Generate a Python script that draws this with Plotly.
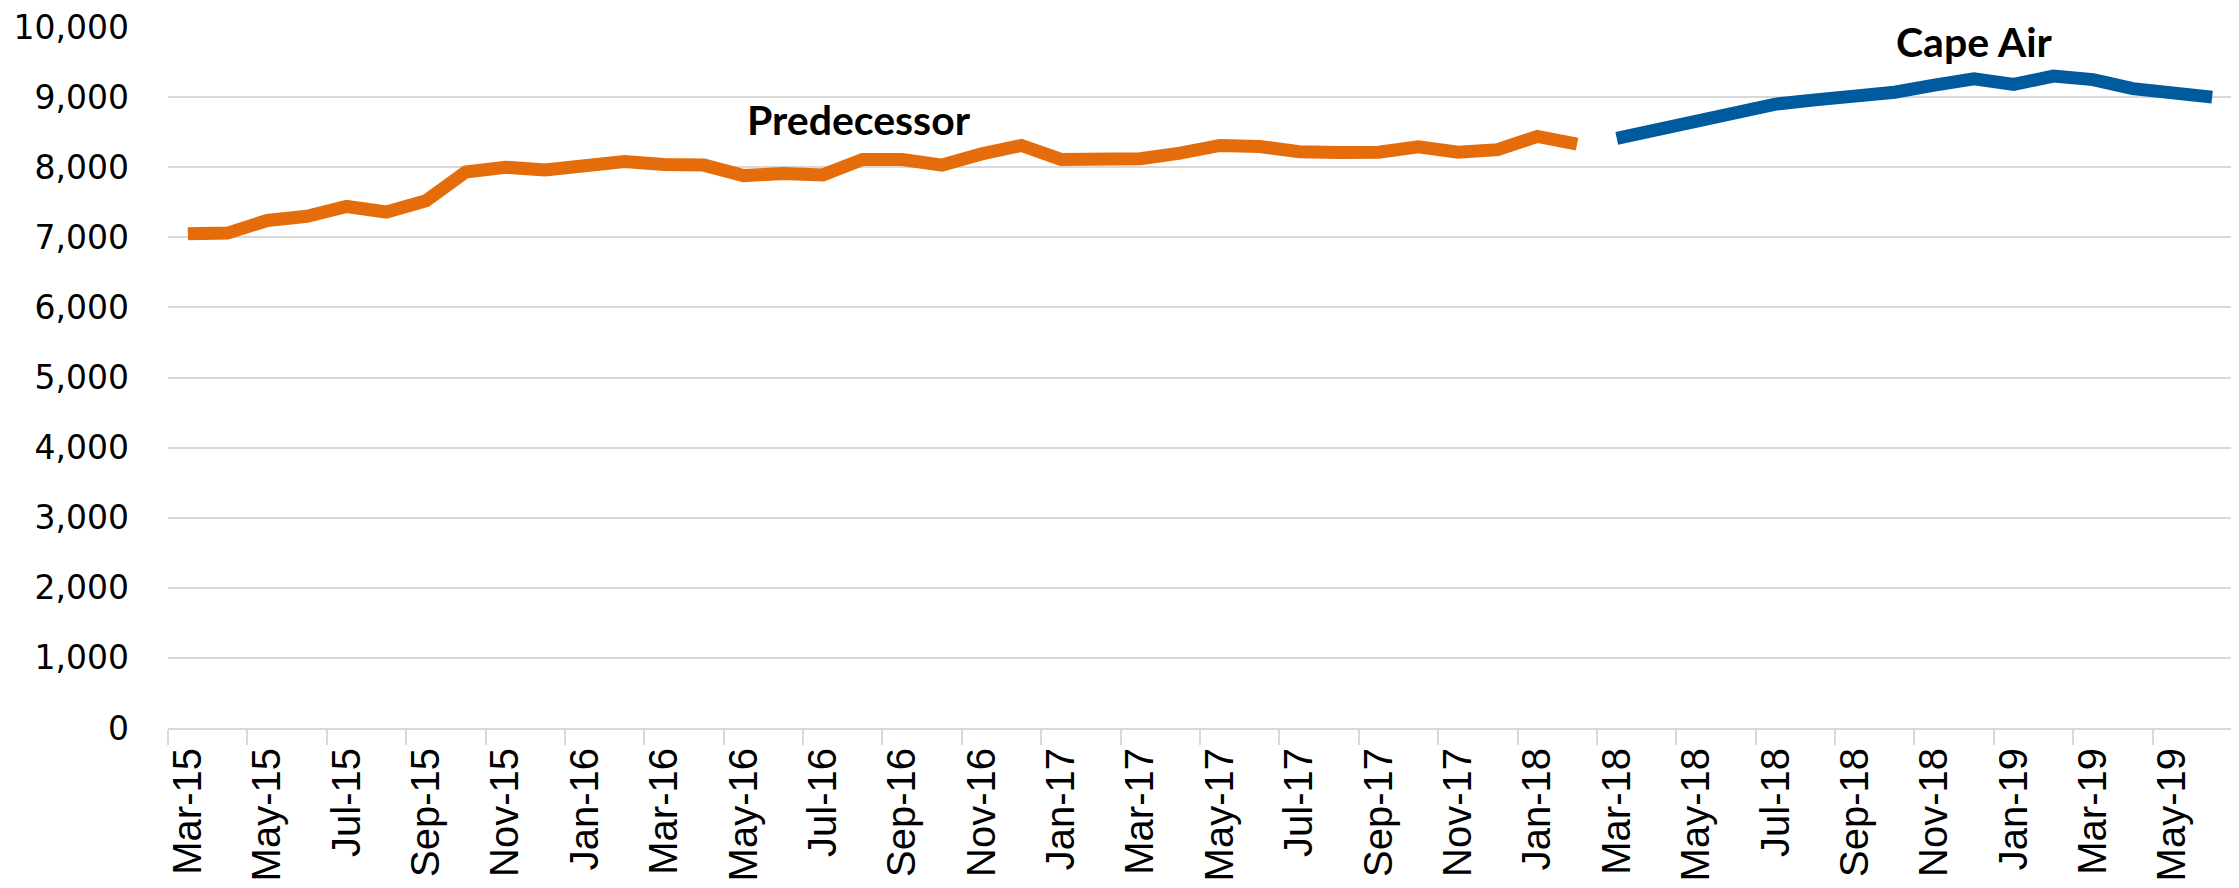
import plotly.graph_objects as go

months = ["Mar-15","Apr-15","May-15","Jun-15","Jul-15","Aug-15","Sep-15","Oct-15","Nov-15","Dec-15",
          "Jan-16","Feb-16","Mar-16","Apr-16","May-16","Jun-16","Jul-16","Aug-16","Sep-16","Oct-16","Nov-16","Dec-16",
          "Jan-17","Feb-17","Mar-17","Apr-17","May-17","Jun-17","Jul-17","Aug-17","Sep-17","Oct-17","Nov-17","Dec-17",
          "Jan-18","Feb-18","Mar-18","Apr-18","May-18","Jun-18","Jul-18","Aug-18","Sep-18","Oct-18","Nov-18","Dec-18",
          "Jan-19","Feb-19","Mar-19","Apr-19","May-19","Jun-19"]

pred_months = months[:36]
pred_values = [7050, 7060, 7240, 7300, 7440, 7360, 7520, 7930, 8000, 7960,
               8020, 8080, 8040, 8030, 7880, 7910, 7890, 8110, 8110, 8030,
               8190, 8310, 8110, 8130, 8120, 8200, 8310, 8295, 8220, 8210,
               8215, 8290, 8215, 8250, 8440, 8330]

cape_months = months[36:]
cape_values = [8410, 8530, 8640, 8740, 8900, 8960, 9010, 9070, 9170, 9260,
               9180, 9300, 9250, 9120, 9060, 9000]

y_ticks = [0, 1000, 2000, 3000, 4000, 5000, 6000, 7000, 8000, 9000, 10000]

fig = go.Figure()
fig.add_trace(go.Scatter(x=pred_months, y=pred_values, mode="lines",
                         line=dict(color="#E46C0A", width=13), name="Predecessor",
                         showlegend=False))
fig.add_trace(go.Scatter(x=cape_months, y=cape_values, mode="lines",
                         line=dict(color="#005A9E", width=13), name="Cape Air",
                         showlegend=False))

fig.add_annotation(x=16.9, y=8680, text="<b>Predecessor</b>", showarrow=False,
                   font=dict(family="Lato", size=41, color="black"))
fig.add_annotation(x=45.0, y=9790, text="<b>Cape Air</b>", showarrow=False,
                   font=dict(family="Lato", size=41, color="black"))

fig.update_layout(
    width=2239, height=888,
    margin=dict(l=160, r=15, t=19, b=168),
    plot_bgcolor="white", paper_bgcolor="white",
    xaxis=dict(type="category", categoryorder="array", categoryarray=months,
               tickmode="linear", tick0=0, dtick=2, tickson="boundaries",
               ticks="outside", ticklen=15, tickcolor="#d9d9d9", tickwidth=2,
               showline=True, linecolor="#d9d9d9", linewidth=2,
               showgrid=False, tickangle=-90, automargin=False,
               ticklabelstandoff=2,
               tickfont=dict(family="Liberation Sans", size=40, color="black"),
               range=[-0.5, 51.5]),
    yaxis=dict(range=[0, 10000], tickmode="array", tickvals=y_ticks,
               tickformat=",", automargin=False, ticklabeloverflow="allow",
               showgrid=True, gridcolor="#d9d9d9", gridwidth=2,
               zeroline=False, showline=False, ticks="",
               ticklabelstandoff=38,
               tickfont=dict(family="DejaVu Sans", size=33, color="black")),
)

fig.write_html("out.html")
